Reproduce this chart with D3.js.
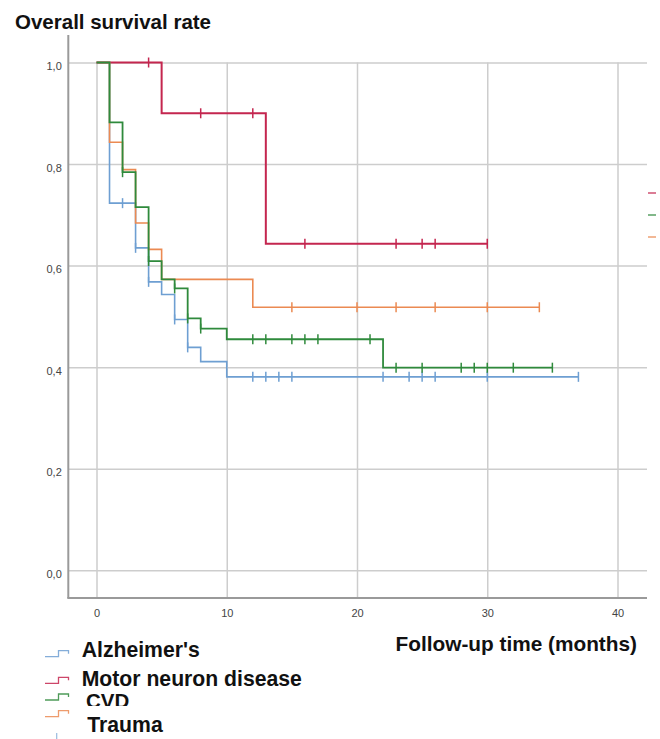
<!DOCTYPE html>
<html>
<head>
<meta charset="utf-8">
<script src="https://cdn.jsdelivr.net/npm/d3@7/dist/d3.min.js"></script>
<style>
  html, body { margin: 0; padding: 0; background: #fff; }
  svg { display: block; }
</style>
</head>
<body>
<svg id="chart" width="660" height="739"></svg>
<script>
// ---------- data ----------
const seriesNames = ["Alzheimer's", "Motor neuron disease", "CVD", "Trauma"];
const seriesColors = ["#6e9fd2", "#c4264f", "#2f8a3c", "#eb8a52"];

// step times (months) and survival after each step
const alzTimes = [0, 1, 3, 4, 5, 6, 7, 8, 10];
const alzSurv  = [1.0, 0.723, 0.635, 0.568, 0.543, 0.494, 0.439, 0.411, 0.381];
const alzEnd = 37;
const alzCensor = [2, 3, 4, 6, 7, 12, 13, 14, 15, 22, 24, 25, 26, 30, 37];

const mndTimes = [0, 5, 13];
const mndSurv  = [1.0, 0.9, 0.643];
const mndEnd = 30;
const mndCensor = [4, 8, 12, 16, 23, 25, 26, 30];

const cvdTimes = [0, 1, 2, 3, 4, 5, 6, 7, 8, 10, 22];
const cvdSurv  = [1.0, 0.882, 0.784, 0.715, 0.609, 0.573, 0.555, 0.496, 0.476, 0.455, 0.399];
const cvdEnd = 35;
const cvdCensor = [2, 4, 6, 7, 8, 12, 13, 15, 16, 17, 21, 23, 25, 28, 29, 30, 32, 35];

const trTimes = [0, 1, 2, 3, 4, 5, 12];
const trSurv  = [1.0, 0.843, 0.789, 0.684, 0.632, 0.573, 0.518];
const trEnd = 34;
const trCensor = [15, 20, 23, 26, 30, 34];

const xTicks = [0, 10, 20, 30, 40];
const yTicks = [0, 0.2, 0.4, 0.6, 0.8, 1.0];
const yTickLabels = ["0,0", "0,2", "0,4", "0,6", "0,8", "1,0"];

const titleText = "Overall survival rate";
const xTitleText = "Follow-up time (months)";

// ---------- layout ----------
const svg = d3.select("#chart");
const x = d3.scaleLinear().domain([0, 40]).range([96.5, 617.5]);
const y = d3.scaleLinear().domain([0, 1]).range([570.3, 62.5]);
const axisX = 68.3, axisBottom = 598, plotRight = 647, axisTop = 35;
const FONT = "'Liberation Sans', Arial, Helvetica, sans-serif";

// gridlines + tick labels (horizontal)
const gy = svg.append("g").attr("transform", `translate(${axisX},0)`)
  .call(d3.axisLeft(y).tickValues(yTicks)
    .tickFormat(d => yTickLabels[yTicks.indexOf(d)])
    .tickSize(-(plotRight - axisX)).tickPadding(6.5));
gy.select(".domain").remove();
gy.selectAll(".tick line").attr("stroke", "#cdcdcd").attr("stroke-width", 1.5);
gy.selectAll(".tick text").attr("font-family", FONT).attr("font-size", 11)
  .attr("fill", "#444").attr("dy", "0.65em");

// vertical gridlines + tick labels
const gx = svg.append("g").attr("transform", `translate(0,${axisBottom})`)
  .call(d3.axisBottom(x).tickValues(xTicks).tickFormat(d3.format("d"))
    .tickSize(-(axisBottom - y(1))).tickPadding(11.5));
gx.select(".domain").remove();
gx.selectAll(".tick line").attr("stroke", "#cdcdcd").attr("stroke-width", 1.5);
gx.selectAll(".tick text").attr("font-family", FONT).attr("font-size", 11).attr("fill", "#444");

// axis lines
svg.append("line").attr("x1", axisX).attr("x2", axisX).attr("y1", axisTop).attr("y2", axisBottom)
  .attr("stroke", "#9a9a9a").attr("stroke-width", 2);
svg.append("line").attr("x1", axisX - 1).attr("x2", plotRight).attr("y1", axisBottom).attr("y2", axisBottom)
  .attr("stroke", "#9a9a9a").attr("stroke-width", 2);

// ---------- curves ----------
const series = [
  {times: alzTimes, surv: alzSurv, end: alzEnd, censor: alzCensor, color: seriesColors[0], w: 1.6},
  {times: mndTimes, surv: mndSurv, end: mndEnd, censor: mndCensor, color: seriesColors[1], w: 2},
  {times: trTimes,  surv: trSurv,  end: trEnd,  censor: trCensor,  color: seriesColors[3], w: 1.6},
  {times: cvdTimes, surv: cvdSurv, end: cvdEnd, censor: cvdCensor, color: seriesColors[2], w: 1.8}
];

const line = d3.line().x(d => x(d[0])).y(d => y(d[1])).curve(d3.curveStepAfter);

function survAt(s, t) {
  let v = s.surv[0];
  for (let i = 0; i < s.times.length; i++) if (s.times[i] <= t) v = s.surv[i];
  return v;
}

series.forEach(s => {
  const pts = s.times.map((t, i) => [t, s.surv[i]]);
  pts.push([s.end, s.surv[s.surv.length - 1]]);
  svg.append("path").attr("d", line(pts)).attr("fill", "none")
    .attr("stroke", s.color).attr("stroke-width", s.w);
  svg.append("g").selectAll("line").data(s.censor).join("line")
    .attr("x1", d => x(d)).attr("x2", d => x(d))
    .attr("y1", d => y(survAt(s, d)) - 5).attr("y2", d => y(survAt(s, d)) + 5)
    .attr("stroke", s.color).attr("stroke-width", 1.5);
});

// ---------- titles ----------
svg.append("text").attr("x", 15).attr("y", 29.3).text(titleText)
  .attr("font-family", FONT).attr("font-weight", "bold").attr("font-size", 20.5).attr("fill", "#111");
svg.append("text").attr("x", 637).attr("y", 650.7).attr("text-anchor", "end").text(xTitleText)
  .attr("font-family", FONT).attr("font-weight", "bold").attr("font-size", 20.8).attr("fill", "#111");

// ---------- legend (bottom left) ----------
const defs = svg.append("defs");
defs.append("clipPath").attr("id", "cvdClip")
  .append("rect").attr("x", 0).attr("y", 680).attr("width", 200).attr("height", 26);

const legendRows = [
  {name: seriesNames[0], color: seriesColors[0], low: 656.7, tx: 81.7, ty: 656.7},
  {name: seriesNames[1], color: seriesColors[1], low: 683.3, tx: 81.7, ty: 686},
  {name: seriesNames[2], color: seriesColors[2], low: 700,   tx: 86,   ty: 708.3},
  {name: seriesNames[3], color: seriesColors[3], low: 716.7, tx: 87.3, ty: 731.7}
];
legendRows.forEach((r, i) => {
  const t = svg.append("text").attr("x", r.tx).attr("y", r.ty).text(r.name)
    .attr("font-family", FONT).attr("font-weight", "bold").attr("font-size", 21.2).attr("fill", "#111");
  if (i === 2) t.attr("clip-path", "url(#cvdClip)").attr("font-size", 20.5);
});
legendRows.forEach(r => {
  const yl = r.low, yh = r.low - 6;
  svg.append("path")
    .attr("d", `M45,${yl}H58.5V${yh}H68.5V${yh + 3}`)
    .attr("fill", "none").attr("stroke", r.color).attr("stroke-width", 1.3).attr("opacity", 0.85);
});
// partial fifth symbol at bottom edge
svg.append("line").attr("x1", 56.7).attr("x2", 56.7).attr("y1", 733).attr("y2", 739)
  .attr("stroke", seriesColors[0]).attr("stroke-width", 1.2).attr("opacity", 0.7);

// ---------- clipped legend remnants (right edge) ----------
const rightLegendY = [193, 215, 237];
[seriesColors[1], seriesColors[2], seriesColors[3]].forEach((c, i) => {
  svg.append("line").attr("x1", 648).attr("x2", 656).attr("y1", rightLegendY[i]).attr("y2", rightLegendY[i])
    .attr("stroke", c).attr("stroke-width", 1.5).attr("opacity", 0.8);
});
</script>
</body>
</html>
